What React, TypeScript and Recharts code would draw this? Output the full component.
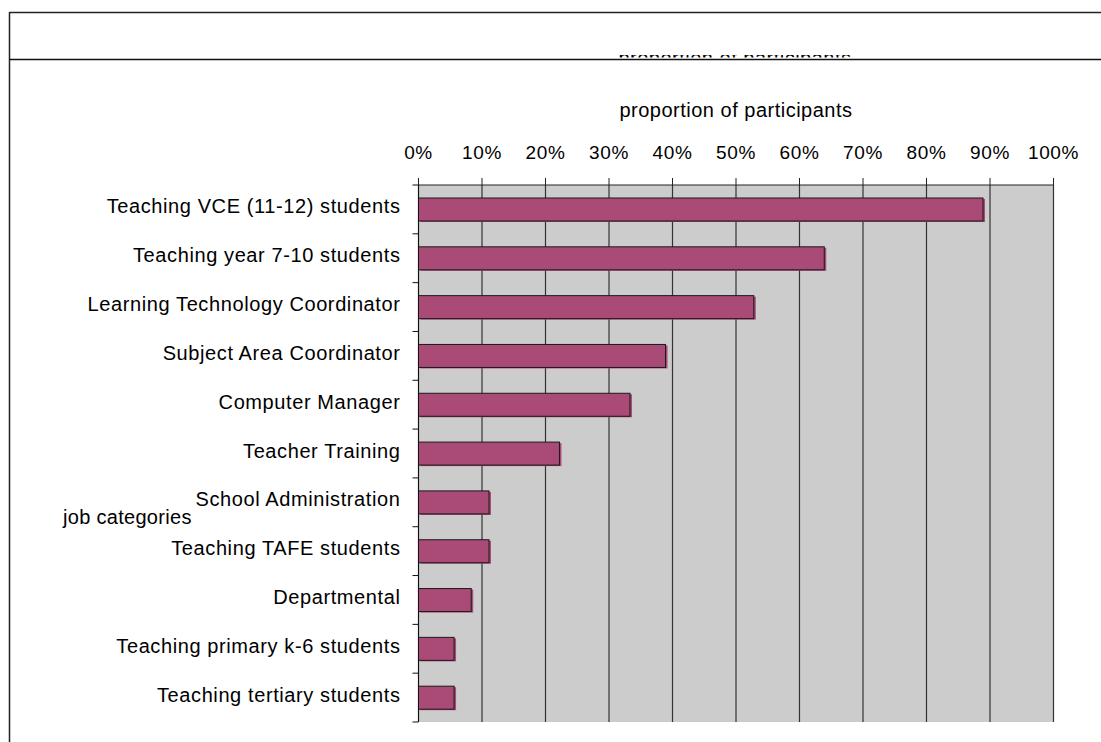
import { BarChart, Bar, XAxis, YAxis, CartesianGrid, Label } from 'recharts'

const categories = [
  'Teaching VCE (11-12) students',
  'Teaching year 7-10 students',
  'Learning Technology Coordinator',
  'Subject Area Coordinator',
  'Computer Manager',
  'Teacher Training',
  'School Administration',
  'Teaching TAFE students',
  'Departmental',
  'Teaching primary k-6 students',
  'Teaching tertiary students',
]
const proportions = [88.9, 63.9, 52.8, 38.9, 33.3, 22.2, 11.1, 11.1, 8.3, 5.6, 5.6]
const percentTicks = [0, 10, 20, 30, 40, 50, 60, 70, 80, 90, 100]

const FONT = '"Liberation Sans", Arial, sans-serif'
const BAR = '#A94A77'
const W = 1101
const H = 742
const MARGIN = { top: 155, right: 47.5, bottom: 20, left: 0.5 }
const X_AXIS_H = 30
const Y_AXIS_W = 418
const PLOT_H = H - MARGIN.top - X_AXIS_H - MARGIN.bottom

const data = categories.map((name, i) => ({ name, value: proportions[i] }))

// labels centred in each band, tick marks on the band edges (Excel style)
function CategoryTick({ x, y, payload, index }: any) {
  const band = PLOT_H / categories.length
  const last = index === categories.length - 1
  return (
    <g>
      <line x1={x - 6} x2={x} y1={y - band / 2} y2={y - band / 2} stroke="#111" />
      {last && <line x1={x - 6} x2={x} y1={y + band / 2} y2={y + band / 2} stroke="#111" />}
      <text
        x={x - 18}
        y={y + 4}
        textAnchor="end"
        fontSize={20}
        fontFamily={FONT}
        letterSpacing={0.6}
        fill="#000"
      >
        {payload.value}
      </text>
    </g>
  )
}

function ShadowBar({ x, y, width, height }: any) {
  if (!width) return null
  return (
    <g>
      <rect x={x + 2} y={y + 1} width={width} height={height} fill={BAR} />
      <rect x={x} y={y} width={width} height={height} fill={BAR} stroke="#1a1a1a" strokeWidth={1} />
    </g>
  )
}

export default function App() {
  return (
    <div style={{ position: 'absolute', left: 0, top: 0, width: W, height: H, background: '#fff' }}>
      <svg width={W} height={H} style={{ position: 'absolute', left: 0, top: 0 }}>
        <defs>
          <clipPath id="cutTitle">
            <rect x={0} y={55} width={W} height={2.5} />
          </clipPath>
        </defs>
        <line x1={9.5} x2={W} y1={12.5} y2={12.5} stroke="#222" strokeWidth={1.5} />
        <line x1={9.5} x2={9.5} y1={12} y2={H} stroke="#222" strokeWidth={1.5} />
        <line x1={9.5} x2={W} y1={59.5} y2={59.5} stroke="#111" strokeWidth={1.5} />
        <text
          x={735}
          y={65}
          textAnchor="middle"
          fontSize={20}
          fontFamily={FONT}
          letterSpacing={0.5}
          clipPath="url(#cutTitle)"
        >
          proportion of participants
        </text>
        <text x={63} y={524} fontSize={20} fontFamily={FONT} letterSpacing={0.3} fill="#000">
          job categories
        </text>
      </svg>
      <div style={{ position: 'absolute', left: 0, top: 0 }}>
        <BarChart width={W} height={H} data={data} layout="vertical" margin={MARGIN}>
          <CartesianGrid horizontal={false} stroke="#333" strokeWidth={1.2} fill="#CCCCCC" fillOpacity={1} />
          <XAxis
            type="number"
            orientation="top"
            domain={[0, 100]}
            ticks={percentTicks}
            tickFormatter={(v) => `${v}%`}
            height={X_AXIS_H}
            tickSize={7}
            tickMargin={19}
            axisLine={{ stroke: '#222' }}
            tickLine={{ stroke: '#222' }}
            tick={{ fill: '#000', fontSize: 19, fontFamily: FONT, letterSpacing: 0.6 }}
            interval={0}
          >
            <Label
              value="proportion of participants"
              position="top"
              offset={38}
              style={{ fill: '#000', fontSize: 20, fontFamily: FONT, letterSpacing: 0.5 }}
            />
          </XAxis>
          <YAxis
            type="category"
            dataKey="name"
            width={Y_AXIS_W}
            axisLine={{ stroke: '#111' }}
            tickLine={false}
            tickSize={0}
            tickMargin={0}
            tick={<CategoryTick />}
            interval={0}
          />
          <Bar dataKey="value" barSize={23} shape={<ShadowBar />} isAnimationActive={false} />
        </BarChart>
      </div>
    </div>
  )
}
